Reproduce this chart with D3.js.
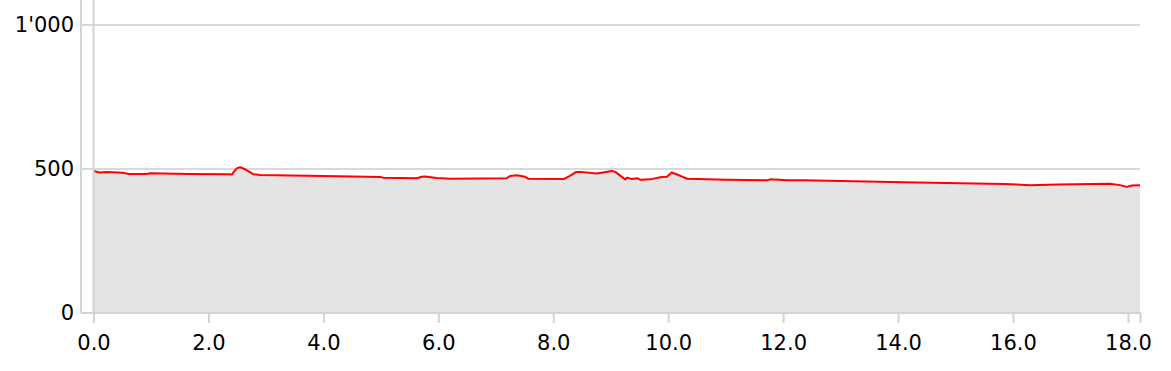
<!DOCTYPE html>
<html>
<head>
<meta charset="utf-8">
<script src="https://cdn.jsdelivr.net/npm/d3@7"></script>
<style>
    body { margin: 0; background: #fff; }
    .label { font-family: "DejaVu Sans", sans-serif; font-size: 21px; fill: #000; }
</style>
</head>
<body>
<div id="profile"></div>
<script>
// distance in km
var dist = [0.00, 0.11, 0.23, 0.51, 0.60, 0.93, 0.98, 1.68, 2.32, 2.41, 2.49, 2.55, 2.64, 2.78, 2.90,
    3.99, 4.99, 5.04, 5.63, 5.71, 5.77, 5.97, 6.21, 7.19, 7.25, 7.37, 7.51, 7.57, 8.18, 8.29, 8.40,
    8.47, 8.76, 9.02, 9.08, 9.25, 9.29, 9.37, 9.46, 9.51, 9.69, 9.86, 9.98, 10.06, 10.18, 10.33,
    11.02, 11.72, 11.78, 12.07, 12.36, 14.10, 15.84, 16.30, 16.77, 17.69, 17.86, 17.98, 18.07, 18.21];
// elevation in m
var elev = [493, 488, 490, 487, 483, 483, 485, 483, 482, 481, 502, 506, 499, 482, 479,
    476, 472, 470, 468, 473, 474, 469, 466, 468, 476, 478, 473, 466, 465, 476, 490,
    490, 484, 493, 490, 464, 470, 465, 468, 463, 464, 471, 473, 488, 479, 466,
    463, 461, 464, 461, 461, 454, 448, 444, 446, 449, 444, 438, 443, 444];
var xTicks = [0, 2, 4, 6, 8, 10, 12, 14, 16, 18];
var yTicks = [0, 500, 1000];

var width = 1171,
    height = 371;

var points = dist.map(function (d, i) {
    return {x: d, y: elev[i]};
});

var locale = d3.formatLocale({decimal: ".", thousands: "'", grouping: [3], currency: ["", ""]});
var yFormat = locale.format(",d"),
    xFormat = d3.format(".1f");

var x = d3.scaleLinear().domain([0, 18.21]).range([93.5, 1140]);
var y = d3.scaleLinear().domain([0, 1000]).range([313, 25]);
var axisLeftX = 81;

var svg = d3.select("#profile").append("svg")
    .attr("width", width)
    .attr("height", height);

// grid lines
svg.append("g")
    .attr("class", "grid")
    .selectAll("line")
    .data(yTicks.slice(1))
    .enter().append("line")
    .attr("x1", axisLeftX)
    .attr("x2", x.range()[1])
    .attr("y1", function (d) { return y(d); })
    .attr("y2", function (d) { return y(d); })
    .style("stroke", "#d9d9d9")
    .style("stroke-width", 2);

// area + line
var area = d3.area()
    .x(function (d) { return x(d.x); })
    .y0(y(0))
    .y1(function (d) { return y(d.y); });

var line = d3.line()
    .x(function (d) { return x(d.x); })
    .y(function (d) { return y(d.y); });

svg.append("path")
    .datum(points)
    .attr("d", area)
    .style("fill", "#e4e4e4");

svg.append("path")
    .datum(points)
    .attr("d", line)
    .style("fill", "none")
    .style("stroke", "#ff0000")
    .style("stroke-width", 2)
    .style("stroke-linejoin", "round");

// x axis
var xAxis = svg.append("g")
    .attr("class", "x axis")
    .attr("transform", "translate(0," + y(0) + ")")
    .call(d3.axisBottom(x).tickValues(xTicks.concat([x.domain()[1]])).tickFormat(function (d) {
        return d > 18.1 ? "" : xFormat(d);
    }).tickSize(10).tickSizeOuter(0).tickPadding(12));

xAxis.attr("font-family", null).attr("font-size", null);
xAxis.select(".domain")
    .attr("d", "M" + axisLeftX + ",0H" + (x.range()[1] + 1));
xAxis.selectAll("line, .domain")
    .style("stroke", "#d3d3d3")
    .style("stroke-width", 2);
xAxis.selectAll(".tick text")
    .attr("class", "label")
    .attr("dy", "0.71em");

// vertical line at km 0
svg.append("line")
    .attr("x1", x(0))
    .attr("x2", x(0))
    .attr("y1", 0)
    .attr("y2", y(0))
    .style("stroke", "#d3d3d3")
    .style("stroke-width", 2);

// y axis
svg.append("line")
    .attr("x1", axisLeftX)
    .attr("x2", axisLeftX)
    .attr("y1", 0)
    .attr("y2", y(0))
    .style("stroke", "#d3d3d3")
    .style("stroke-width", 2);

svg.append("g")
    .attr("class", "y axis")
    .selectAll("text")
    .data(yTicks)
    .enter().append("text")
    .attr("class", "label")
    .attr("x", axisLeftX - 7)
    .attr("y", function (d) { return y(d); })
    .attr("dy", "0.35em")
    .style("text-anchor", "end")
    .text(function (d) { return yFormat(d); });
</script>
</body>
</html>
